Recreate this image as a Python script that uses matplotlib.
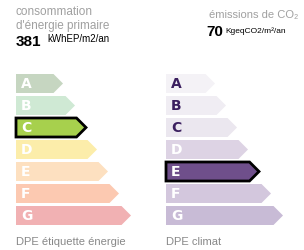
import matplotlib.pyplot as plt
from matplotlib.patches import Polygon

plt.rcParams['font.family'] = ['Liberation Sans', 'DejaVu Sans']

# données
grades = ['A', 'B', 'C', 'D', 'E', 'F', 'G']
energy_len = [47, 59, 70, 81, 92, 103, 115]
climate_len = [49, 60, 71, 82, 93, 105, 117]
energy_colors = ['#c6d6c1', '#cfe9d4', '#a7d04d', '#fcedaa', '#fde0c0', '#fcc9b1', '#f1b1b3']
climate_colors = ['#f4f2f6', '#f0edf3', '#ebe7ef', '#ddd3e4', '#6f4f8b', '#d3c7dd', '#c8bbd6']
climate_letter_colors = ['#3b1f5f', '#3b1f5f', '#3b1f5f', 'white', 'white', 'white', 'white']
energy_value = 381
energy_unit = 'kWhEP/m2/an'
energy_grade = 'C'
climate_value = 70
climate_unit = 'KgeqCO2/m²/an'
climate_grade = 'E'

fig = plt.figure(figsize=(3.04, 2.50), dpi=100)
ax = fig.add_axes([0, 0, 1, 1])
ax.set_xlim(0, 304)
ax.set_ylim(250, 0)
ax.axis('off')


def draw_scale(x0, lengths, colors, letter_colors, selected):
    for i, g in enumerate(grades):
        y0 = 74 + i * 22
        h = 19
        tip = h / 2
        L = lengths[i]
        pts = [(x0, y0), (x0 + L - tip, y0), (x0 + L, y0 + h / 2),
               (x0 + L - tip, y0 + h), (x0, y0 + h)]
        if g == selected:
            ax.add_patch(Polygon(pts, closed=True, facecolor=colors[i],
                                 edgecolor='black', linewidth=2, joinstyle='miter'))
        else:
            ax.add_patch(Polygon(pts, closed=True, facecolor=colors[i], edgecolor='none'))
        ax.text(x0 + 5, y0 + h / 2 + 0.5, g, color=letter_colors[i], fontsize=10,
                fontweight='bold', va='center', ha='left', family='DejaVu Sans')


draw_scale(16, energy_len, energy_colors, ['white'] * 7, energy_grade)
draw_scale(166, climate_len, climate_colors, climate_letter_colors, climate_grade)

# en-têtes
grey = '#a0a0a0'
ax.text(16, 12, 'consommation', color=grey, fontsize=8.5, va='center', ha='left')
ax.text(16, 26, "d'énergie primaire", color=grey, fontsize=8.5, va='center', ha='left')
ax.text(16, 42, str(energy_value), color='black', fontsize=11, fontweight='bold', va='center', ha='left')
ax.text(47, 34, energy_unit, color='black', fontsize=7, va='top', ha='left')

ax.text(298, 15, 'émissions de CO₂', color=grey, fontsize=8, va='center', ha='right')
ax.text(206, 32, str(climate_value), color='black', fontsize=11, fontweight='bold', va='center', ha='left')
ax.text(225, 27, climate_unit, color='black', fontsize=6, va='top', ha='left')

ax.text(16, 242, 'DPE étiquette énergie', color='#888888', fontsize=8, va='center', ha='left')
ax.text(166, 242, 'DPE climat', color='#888888', fontsize=8, va='center', ha='left')

fig.savefig('out.png', dpi=100)
